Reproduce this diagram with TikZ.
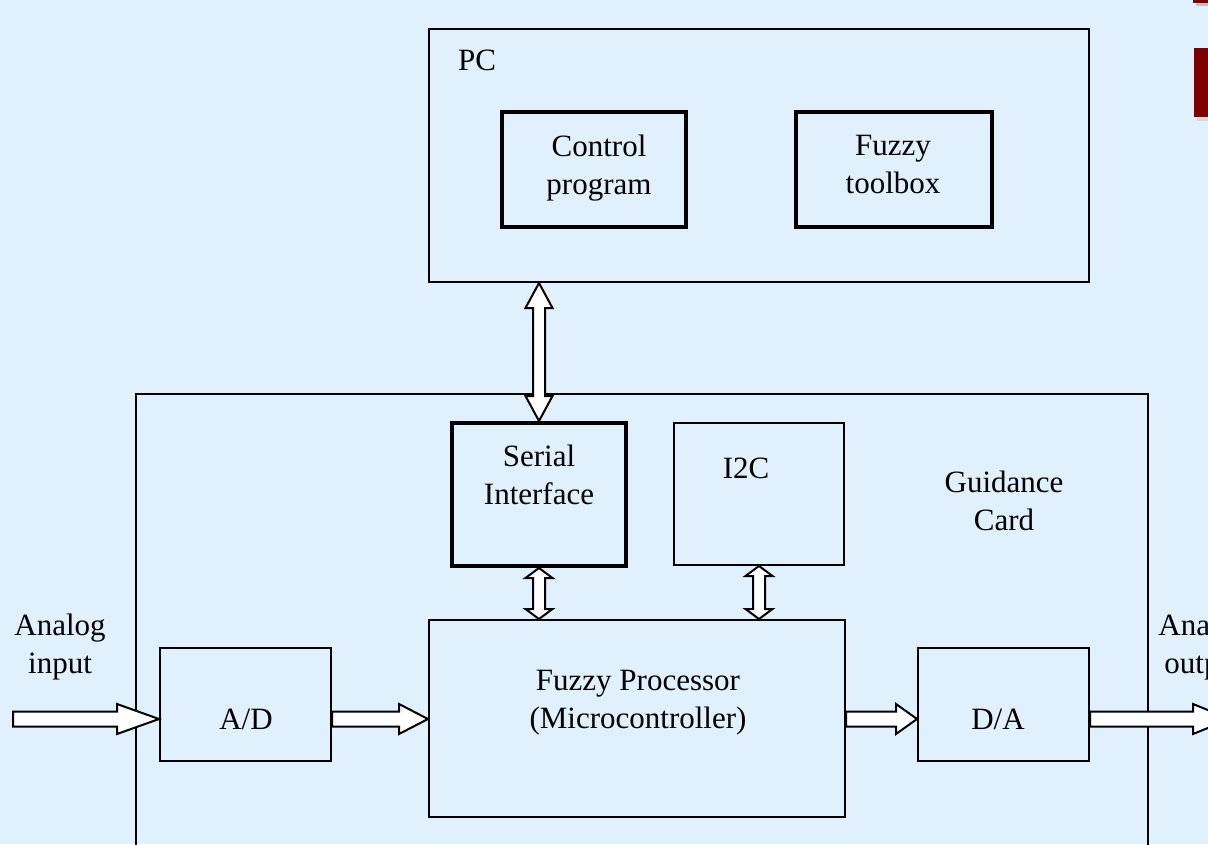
\documentclass[tikz,border=0pt]{standalone}
\usepackage{fontspec}
\setmainfont{Liberation Serif}
\usetikzlibrary{calc}
\definecolor{bg}{RGB}{225,240,253}
\definecolor{darkred}{RGB}{128,0,0}
\tikzset{
  thinbox/.style={draw=black, line width=2pt, inner sep=0pt},
  thickbox/.style={draw=black, line width=4pt, inner sep=0pt},
  lbl/.style={font=\fontsize{31}{38}\selectfont, align=center, inner sep=0pt},
  blk/.style={draw=black, fill=white, line width=2pt, line join=miter},
}
% horizontal block arrow: from #1 to #2, head length #3
\newcommand\hblk[3]{%
  \draw[blk] let \p1=(#1), \p2=(#2) in
    (\x1,{\y1+7.5pt}) -- ({\x2-#3pt},{\y1+7.5pt}) -- ({\x2-#3pt},{\y1+15pt}) -- (\x2,\y1)
    -- ({\x2-#3pt},{\y1-15pt}) -- ({\x2-#3pt},{\y1-7.5pt}) -- (\x1,{\y1-7.5pt}) -- cycle;}
% vertical double block arrow: top #1, bottom #2, head length #3
\newcommand\vdblk[3]{%
  \draw[blk] let \p1=(#1), \p2=(#2) in
    (\x1,\y1) -- ({\x1+13.5pt},{\y1-#3pt}) -- ({\x1+6pt},{\y1-#3pt}) -- ({\x1+6pt},{\y2+#3pt})
    -- ({\x1+13.5pt},{\y2+#3pt}) -- (\x1,\y2) -- ({\x1-13.5pt},{\y2+#3pt}) -- ({\x1-6pt},{\y2+#3pt})
    -- ({\x1-6pt},{\y1-#3pt}) -- ({\x1-13.5pt},{\y1-#3pt}) -- cycle;}
\begin{document}
\begin{tikzpicture}[x=1pt,y=-1pt]
\useasboundingbox (0,0) rectangle (1208,844);
\clip (0,0) rectangle (1208,844);
\fill[bg] (0,0) rectangle (1208,844);
% decorative red bars
\fill[black!25] (1196,2) rectangle (1210,6);
\fill[darkred] (1193,-2) rectangle (1210,3);
\fill[black!15] (1197,52) rectangle (1210,121);
\fill[darkred] (1194,48) rectangle (1210,117);

% PC
\node[thinbox, minimum width=660pt, minimum height=253pt] (pc) at (759,155.5) {};
\node[lbl] (pct) at (477,60) {PC};
\node[thickbox, minimum width=184pt, minimum height=115pt] (cp) at (594,169.5) {};
\node[lbl] (cpt) at (599,168) {Control\\program};
\node[thickbox, minimum width=196pt, minimum height=115pt] (ft) at (894,169.5) {};
\node[lbl] (ftt) at (893,164.5) {Fuzzy\\toolbox};

% Guidance card
\node[thinbox, minimum width=1012pt, minimum height=506pt] (gc) at (642,647) {};
\node[lbl] (gct) at (1004,501) {Guidance\\Card};
\node[thickbox, minimum width=174pt, minimum height=143pt] (si) at (539,494.5) {};
\node[lbl] (sit) at (539,474.5) {Serial\\Interface};
\node[thinbox, minimum width=170pt, minimum height=142pt] (i2c) at (759,494) {};
\node[lbl] (i2ct) at (746,468) {I2C};
\node[thinbox, minimum width=416pt, minimum height=197pt] (fp) at (637,718.5) {};
\node[lbl] (fpt) at (638,703) {Fuzzy Processor\\(Microcontroller)};
\node[thinbox, minimum width=171pt, minimum height=113pt] (ad) at (245.5,704.5) {};
\node[lbl] (adt) at (246,719) {A/D};
\node[thinbox, minimum width=171pt, minimum height=113pt] (da) at (1003.5,704.5) {};
\node[lbl] (dat) at (998,719) {D/A};

\node[lbl] (ain) at (60,647.5) {Analog\\input};
\node[lbl] (aout) at (1204,647.5) {Analog\\output};

% arrows
\coordinate (inl) at (13,719);
\coordinate (inr) at (ad.west |- inl);
\coordinate (a1) at (ad.east |- inl);
\coordinate (a2) at (fp.west |- inl);
\coordinate (b1) at (fp.east |- inl);
\coordinate (b2) at (da.west |- inl);
\coordinate (c1) at (da.east |- inl);
\coordinate (c2) at (1230,719);
\hblk{inl}{inr}{42}
\hblk{a1}{a2}{29}
\hblk{b1}{b2}{21}
\hblk{c1}{c2}{37}

\coordinate (v1) at (pc.south -| si.north);
\vdblk{v1}{si.north}{25}
\coordinate (v2) at (fp.north -| si.south);
\vdblk{si.south}{v2}{10}
\coordinate (v3t) at (i2c.south);
\coordinate (v3b) at (fp.north -| i2c.south);
\vdblk{v3t}{v3b}{10}
\end{tikzpicture}
\end{document}
